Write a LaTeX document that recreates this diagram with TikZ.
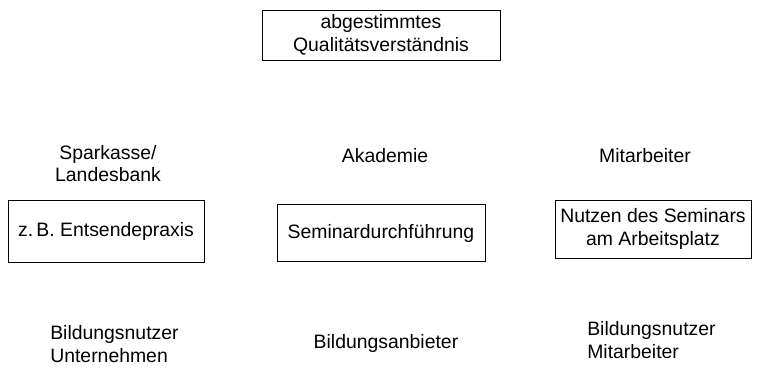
\documentclass[tikz,border=0pt]{standalone}
\usepackage{fontspec}
\setmainfont{Liberation Sans}
\usepackage{tikz}
\usetikzlibrary{positioning}

\begin{document}
\begin{tikzpicture}[node distance=6.85cm,
  every node/.style={font=\fontsize{13.8}{16.3}\selectfont,align=center},
  box/.style={rectangle,draw,thin,inner sep=2pt},
  lbl/.style={inner sep=0pt}]
\useasboundingbox (0,0) rectangle (18.95,9.2);
\node[box,minimum width=5.95cm,minimum height=1.25cm] (Q) at (9.525,8.325) {abgestimmtes\\Qualitätsverständnis};
\node[box,minimum width=5.2cm,minimum height=1.43cm] (S) at (9.525,3.375) {Seminardurchführung};
\node[box,minimum width=4.9cm,minimum height=1.55cm] (E) at (2.65,3.425) {z.\,B. Entsendepraxis};
\node[box,minimum width=4.9cm,minimum height=1.45cm] (N) at (16.325,3.475) {Nutzen des Seminars\\am Arbeitsplatz};
\node[lbl] (SL) at (2.7,5.11) {Sparkasse/\\Landesbank};
\node[lbl] (AK) at (9.625,5.3) {Akademie};
\node[lbl] (MA) at (16.125,5.3) {Mitarbeiter};
\node[lbl,anchor=west,align=left] (BU) at (1.25,0.6) {Bildungsnutzer\\Unternehmen};
\node[lbl] (BA) at (9.65,0.62) {Bildungsanbieter};
\node[lbl,anchor=west,align=left] (BM) at (14.675,0.7) {Bildungsnutzer\\Mitarbeiter};
\end{tikzpicture}
\end{document}
